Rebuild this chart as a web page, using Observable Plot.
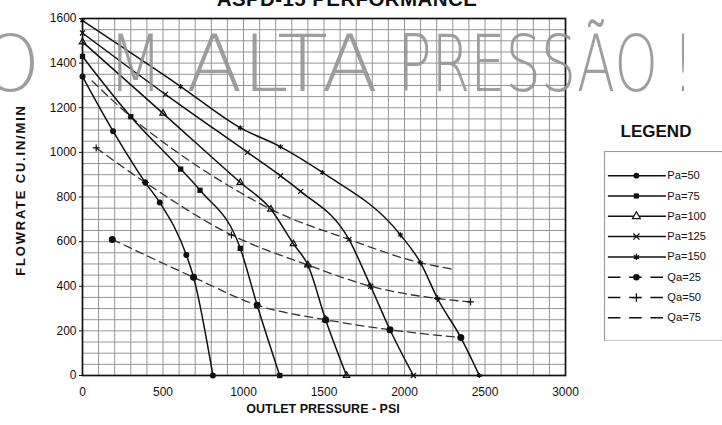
<!DOCTYPE html>
<html><head><meta charset="utf-8">
<script src="https://cdn.jsdelivr.net/npm/d3@7"></script>
<script src="https://cdn.jsdelivr.net/npm/@observablehq/plot@0.6"></script>
<style>
body{margin:0;background:#fff;}
#wrap{position:relative;width:722px;height:425px;overflow:hidden;font-family:"Liberation Sans",Arial,sans-serif;color:#111;}
#chart{position:absolute;left:0;top:0;}
#title{position:absolute;left:347px;top:-13px;transform:translateX(-50%);font-weight:bold;font-size:20.5px;letter-spacing:0.4px;white-space:nowrap;}
#ylab{position:absolute;left:20px;top:190px;transform:translate(-50%,-50%) rotate(-90deg);font-weight:bold;font-size:13px;letter-spacing:1.8px;white-space:nowrap;}
#xlab{position:absolute;left:323px;top:402px;transform:translateX(-50%);font-weight:bold;font-size:12.5px;white-space:nowrap;}
#legTitle{position:absolute;left:656px;top:122px;transform:translateX(-50%);font-weight:bold;font-size:17px;}
#legend{position:absolute;left:604px;top:151px;}
#wm{position:absolute;left:0;top:0;pointer-events:none;}
</style></head>
<body>
<div id="wrap">
  <div id="chart"></div>
  <div id="title">ASPD-15 PERFORMANCE</div>
  <div id="ylab">FLOWRATE CU.IN/MIN</div>
  <div id="xlab">OUTLET PRESSURE - PSI</div>
  <div id="legTitle">LEGEND</div>
  <div id="legend"></div>
</div>
<script>
// ---- data (outlet pressure psi, flowrate cu.in/min) ----
const seriesNames = ["Pa=50","Pa=75","Pa=100","Pa=125","Pa=150","Qa=25","Qa=50","Qa=75"];
const pa50  = [[0,1340],[190,1095],[390,865],[480,775],[645,540],[690,440],[810,0]];
const pa75  = [[0,1430],[300,1160],[610,925],[730,830],[980,570],[1085,315],[1225,0]];
const pa100 = [[0,1495],[500,1175],[980,865],[1170,745],[1310,590],[1400,495],[1510,250],[1640,0]];
const pa125 = [[0,1535],[515,1260],[1025,1000],[1230,895],[1355,825],[1655,610],[1790,400],[1910,205],[2055,0]];
const pa150 = [[0,1590],[610,1295],[980,1110],[1230,1025],[1490,910],[1975,630],[2100,505],[2205,345],[2350,170],[2465,0]];
const qa25  = [[185,610],[690,440],[1085,315],[1510,250],[1910,205],[2350,170]];
const qa50  = [[85,1020],[390,865],[925,630],[1400,495],[1790,400],[2205,345],[2410,330]];
const qa75  = [[60,1320],[300,1160],[680,955],[980,820],[1170,745],[1655,610],[2100,505],[2315,475]];
const xTicks = [0,500,1000,1500,2000,2500,3000];
const yTicks = [0,200,400,600,800,1000,1200,1400,1600];
const watermarkWords = ["CO","M","ALTA","PRESSÃO","!"];

const seriesData = [pa50,pa75,pa100,pa125,pa150,qa25,qa50,qa75];
const rows = seriesNames.flatMap((s,i) => seriesData[i].map(([p,f]) => ({series:s, p, f})));
const solidSet = new Set(["Pa=50","Pa=75","Pa=100","Pa=125","Pa=150"]);
const symbolRange = ["circle","square","triangle","times","asterisk","circle","plus","circle"];
const filledSet = new Set(["Pa=50","Pa=75","Qa=25"]);
const strokeSymSet = new Set(["Pa=100","Pa=125","Pa=150","Qa=50"]);
const symScale = {domain: seriesNames, range: symbolRange};

const chart = Plot.plot({
  width: 722, height: 425,
  marginLeft: 82, marginRight: 157, marginTop: 18, marginBottom: 50,
  style: {fontFamily: "Liberation Sans, Arial, sans-serif", fontSize: "12px", background: "transparent", color: "#111"},
  x: {domain: [0,3000], ticks: xTicks, tickFormat: d => String(d), tickSize: 0, tickPadding: 12, label: null},
  y: {domain: [0,1600], ticks: yTicks, tickFormat: d => String(d), tickSize: 3, tickPadding: 3, label: null},
  symbol: symScale,
  marks: [
    Plot.gridX(d3.range(0,3001,100), {stroke: "#949494", strokeOpacity: 1, strokeWidth: 1}),
    Plot.gridY(d3.range(0,1601,50), {stroke: "#949494", strokeOpacity: 1, strokeWidth: 1}),
    Plot.frame({stroke: "#111", strokeWidth: 1.7}),
    Plot.line(rows.filter(d => !solidSet.has(d.series)), {x: "p", y: "f", z: "series", curve: "monotone-x", stroke: "#333", strokeWidth: 1.3, strokeDasharray: "8,5"}),
    Plot.line(rows.filter(d => solidSet.has(d.series)), {x: "p", y: "f", z: "series", curve: "monotone-x", stroke: "#111", strokeWidth: 1.5}),
    Plot.dot(rows.filter(d => filledSet.has(d.series)), {x: "p", y: "f", symbol: "series", fill: "#111", stroke: "none", r: d => d.series === "Qa=25" ? 3.4 : 2.5}),
    Plot.dot(rows.filter(d => strokeSymSet.has(d.series)), {x: "p", y: "f", symbol: "series", fill: "none", stroke: "#111", strokeWidth: 1.2, r: 2.4})
  ]
});
document.getElementById("chart").append(chart);

// ---- legend ----
const legRows = seriesNames.map(s => ({series: s}));
const legend = Plot.plot({
  width: 122, height: 196, margin: 0,
  style: {fontFamily: "Liberation Sans, Arial, sans-serif", fontSize: "11.5px", background: "white", color: "#111"},
  x: {domain: [0,122], range: [0,122], axis: null},
  y: {type: "point", domain: seriesNames, range: [13.5,182.5], axis: null},
  symbol: symScale,
  marks: [
    Plot.frame({stroke: "#999", strokeWidth: 1.2}),
    Plot.ruleY(legRows.filter(d => solidSet.has(d.series)), {y: "series", x1: 4, x2: 64, stroke: "#111", strokeWidth: 1.5}),
    Plot.ruleY(legRows.filter(d => !solidSet.has(d.series)), {y: "series", x1: 4, x2: 64, stroke: "#111", strokeWidth: 1.5, strokeDasharray: "13,9"}),
    Plot.dot(legRows.filter(d => filledSet.has(d.series)), {x: 33, y: "series", symbol: "series", fill: "#111", stroke: "none", r: d => d.series === "Qa=25" ? 3.8 : 3}),
    Plot.dot(legRows.filter(d => strokeSymSet.has(d.series)), {x: 33, y: "series", symbol: "series", fill: "white", stroke: "#111", strokeWidth: 1.3, r: 3}),
    Plot.text(legRows, {x: 65, y: "series", text: "series", textAnchor: "start", fill: "#111"})
  ]
});
document.getElementById("legend").append(legend);

// ---- watermark overlay ----
const wmSpans = [[-72,40],[108,163],[186,378],[398,658],[674,692]];
const wm = d3.select("#wrap").append("svg").attr("id","wm").attr("width",722).attr("height",425);
wm.selectAll("text").data(watermarkWords).join("text")
  .attr("x", (d,i) => wmSpans[i][0]).attr("y", 91)
  .attr("textLength", (d,i) => wmSpans[i][1] - wmSpans[i][0]).attr("lengthAdjust", "spacingAndGlyphs")
  .attr("font-family", "DejaVu Sans, Open Sans, sans-serif").attr("font-weight", 200)
  .attr("font-size", 78).attr("fill", "#939393").attr("fill-opacity", 0.9)
  .text(d => d);
</script>
</body></html>
